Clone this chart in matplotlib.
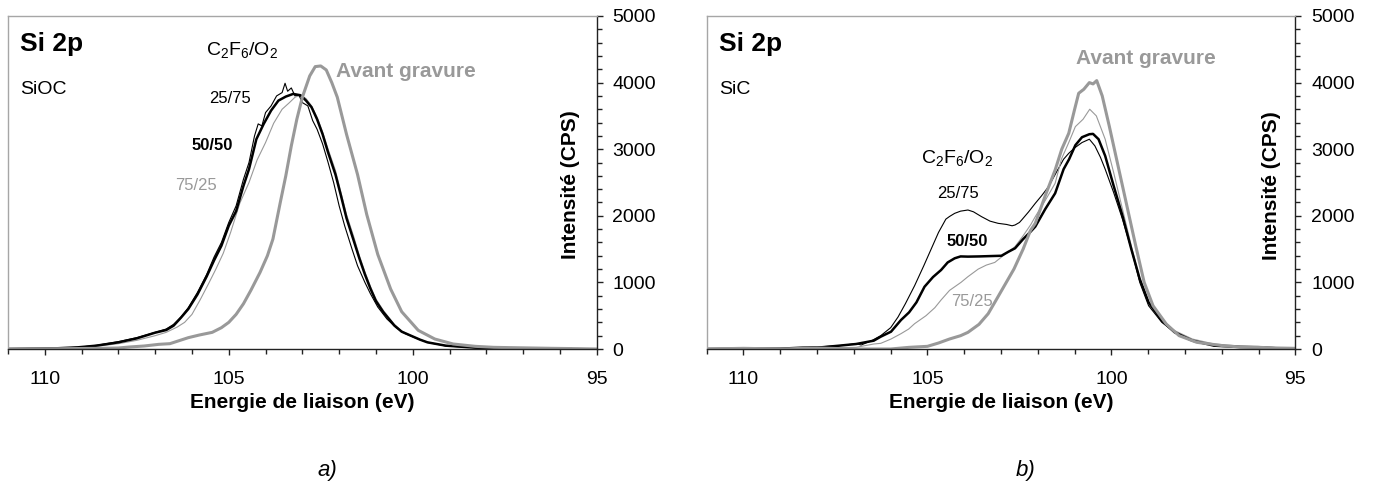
import matplotlib
matplotlib.use("Agg")
import matplotlib.pyplot as plt
from matplotlib.ticker import MultipleLocator

plt.rcParams["font.family"] = ["Liberation Sans", "DejaVu Sans"]
plt.rcParams["mathtext.default"] = "regular"

GRAY = "#999999"

# ---- a) SiOC : Si 2p spectra (binding energy eV, intensity CPS)
a_ref_x = [111.0, 109.5, 108.5, 108.0, 107.7, 107.3, 106.9, 106.6, 106.1, 105.8, 105.45, 105.2,
           105.0, 104.8, 104.6, 104.4, 104.15, 103.95, 103.8, 103.6, 103.45, 103.3, 103.15, 103.0,
           102.8, 102.65, 102.5, 102.35, 102.2, 102.05, 101.8, 101.5, 101.25, 100.95, 100.6, 100.3,
           99.85, 99.4, 98.9, 98.3, 97.8, 97.3, 96.2, 95.5, 95.0]
a_ref_y = [0, 5, 10, 15, 30, 45, 70, 80, 170, 210, 250, 320,
           400, 520, 680, 880, 1150, 1400, 1650, 2200, 2600, 3050, 3450, 3780,
           4100, 4240, 4250, 4190, 4000, 3780, 3225, 2620, 2020, 1420, 900, 560,
           280, 150, 75, 40, 25, 20, 10, 5, 0]

a_5050_x = [111.0, 110.4, 109.7, 109.1, 108.6, 108.0, 107.5, 107.0, 106.7, 106.5, 106.3, 106.1,
            105.85, 105.6, 105.4, 105.2, 105.0, 104.8, 104.6, 104.45, 104.25, 104.05, 103.85, 103.65,
            103.45, 103.25, 103.05, 102.9, 102.75, 102.6, 102.45, 102.3, 102.1, 101.95, 101.8, 101.6,
            101.45, 101.3, 101.15, 101.0, 100.8, 100.5, 100.3, 100.05, 99.8, 99.6, 99.1, 98.3,
            97.3, 96.2, 95.7]
a_5050_y = [0, 5, 10, 25, 50, 100, 160, 245, 285, 350, 470, 600,
            820, 1090, 1330, 1550, 1850, 2070, 2450, 2700, 3150, 3380, 3580, 3730,
            3790, 3830, 3810, 3730, 3630, 3450, 3225, 2950, 2620, 2300, 1965, 1620,
            1360, 1120, 907, 720, 554, 353, 260, 200, 140, 100, 50, 20,
            10, 3, 0]

a_2575_x = [111.0, 110.4, 109.7, 109.1, 108.6, 108.0, 107.5, 107.0, 106.7, 106.5, 106.3, 106.1,
            105.85, 105.6, 105.4, 105.2, 105.0, 104.8, 104.6, 104.45, 104.3, 104.2, 104.1, 104.0,
            103.85, 103.7, 103.55, 103.47, 103.4, 103.3, 103.2, 103.1, 103.0, 102.85, 102.72, 102.6,
            102.45, 102.3, 102.15, 102.0, 101.85, 101.65, 101.5, 101.3, 101.15, 100.95, 100.7, 100.45,
            100.2, 99.9, 99.6, 99.1, 98.3, 97.3, 96.2, 95.7]
a_2575_y = [0, 0, 15, 25, 55, 110, 170, 250, 300, 370, 480, 620,
            850, 1120, 1380, 1600, 1900, 2150, 2550, 2800, 3200, 3380, 3350, 3550,
            3650, 3800, 3850, 3990, 3870, 3920, 3800, 3820, 3700, 3650, 3430, 3300,
            3080, 2800, 2500, 2150, 1850, 1500, 1250, 1000, 830, 630, 450, 320,
            230, 160, 100, 45, 20, 8, 3, 0]

a_7525_x = [111.0, 110.4, 109.7, 109.1, 108.6, 108.0, 107.5, 107.0, 106.7, 106.4, 106.2, 106.0,
            105.78, 105.55, 105.35, 105.15, 104.95, 104.7, 104.45, 104.23, 104.0, 103.78, 103.55, 103.35,
            103.2, 103.05, 102.9, 102.75, 102.6, 102.45, 102.3, 102.1, 101.95, 101.8, 101.6, 101.45,
            101.3, 101.15, 101.0, 100.8, 100.5, 100.3, 100.05, 99.8, 99.6, 99.1, 98.3, 97.3,
            96.2, 95.7]
a_7525_y = [0, 5, 10, 20, 40, 80, 130, 200, 250, 330, 400, 520,
            736, 980, 1200, 1437, 1750, 2188, 2500, 2838, 3100, 3389, 3600, 3700,
            3780, 3814, 3760, 3650, 3480, 3260, 3000, 2680, 2350, 2020, 1680, 1400,
            1160, 940, 750, 580, 370, 270, 200, 140, 100, 50, 20, 10,
            5, 0]

# ---- b) SiC : Si 2p spectra
b_ref_x = [111.0, 110.0, 109.0, 108.0, 107.0, 106.0, 105.5, 105.0, 104.7, 104.4, 104.1, 103.9,
           103.6, 103.35, 103.15, 102.9, 102.65, 102.4, 102.2, 102.07, 101.8, 101.53, 101.35, 101.16,
           101.0, 100.89, 100.75, 100.6, 100.5, 100.4, 100.25, 100.06, 99.82, 99.58, 99.34, 99.11,
           98.87, 98.51, 98.16, 97.68, 96.97, 96.5, 96.02, 95.5, 95.0]
b_ref_y = [0, 10, 0, 15, 0, 0, 25, 40, 90, 150, 200, 250,
           370, 530, 720, 960, 1200, 1500, 1780, 1887, 2300, 2688, 3000, 3239,
           3600, 3840, 3900, 4000, 3980, 4030, 3800, 3350, 2750, 2150, 1550, 1000,
           650, 375, 200, 100, 50, 30, 25, 15, 10]

b_2575_x = [111.0, 110.0, 109.0, 108.13, 107.4, 106.94, 106.8, 106.5, 106.27, 106.0, 105.8, 105.6,
            105.35, 105.1, 104.9, 104.7, 104.5, 104.4, 104.26, 104.1, 103.9, 103.75, 103.53, 103.3,
            103.08, 102.85, 102.7, 102.62, 102.5, 102.44, 102.25, 102.07, 101.9, 101.71, 101.5, 101.3,
            101.16, 101.0, 100.8, 100.6, 100.45, 100.3, 100.17, 99.94, 99.7, 99.46, 99.23, 98.99,
            98.63, 98.28, 97.8, 97.21, 96.5, 96.02, 95.5, 95.0]
b_2575_y = [0, 5, 0, 25, 50, 80, 60, 130, 200, 320, 480, 680,
            950, 1250, 1500, 1750, 1950, 1990, 2037, 2070, 2087, 2060, 1987, 1920,
            1887, 1870, 1850, 1862, 1900, 1937, 2060, 2187, 2300, 2437, 2650, 2850,
            2938, 3020, 3100, 3150, 3050, 2880, 2700, 2350, 1950, 1500, 1000, 650,
            400, 250, 125, 50, 30, 25, 10, 10]

b_5050_x = [111.0, 110.0, 109.0, 108.4, 107.89, 107.4, 106.94, 106.46, 106.27, 105.99, 105.72, 105.5,
            105.3, 105.08, 104.85, 104.63, 104.45, 104.26, 104.1, 103.9, 103.6, 103.3, 102.99, 102.8,
            102.62, 102.4, 102.2, 102.07, 101.8, 101.53, 101.3, 101.15, 100.98, 100.8, 100.6, 100.5,
            100.35, 100.17, 99.94, 99.7, 99.46, 99.23, 98.99, 98.63, 98.28, 97.8, 97.21, 96.5,
            96.02, 95.5, 95.0]
b_5050_y = [0, 5, 5, 20, 25, 50, 75, 125, 185, 260, 435, 550,
            700, 935, 1080, 1186, 1300, 1362, 1390, 1387, 1390, 1395, 1400, 1460,
            1512, 1650, 1760, 1837, 2100, 2338, 2700, 2850, 3060, 3180, 3225, 3230,
            3150, 2900, 2450, 2000, 1500, 1050, 700, 425, 250, 125, 50, 30,
            25, 10, 5]

b_7525_x = [111.0, 110.0, 109.0, 108.0, 107.4, 106.94, 106.46, 106.27, 105.99, 105.72, 105.51, 105.35,
            105.04, 104.8, 104.63, 104.4, 104.09, 103.9, 103.62, 103.4, 103.17, 102.9, 102.62, 102.4,
            102.19, 102.07, 101.8, 101.53, 101.36, 101.16, 100.98, 100.77, 100.59, 100.41, 100.17, 99.94,
            99.7, 99.46, 99.23, 98.99, 98.63, 98.28, 97.8, 97.21, 96.5, 96.02, 95.5, 95.0]
b_7525_y = [0, 0, 5, 10, 20, 25, 75, 85, 150, 230, 300, 380,
            500, 620, 736, 880, 1000, 1086, 1200, 1260, 1300, 1420, 1537, 1700,
            1870, 1987, 2230, 2488, 2850, 3100, 3339, 3450, 3600, 3500, 3150, 2650,
            2100, 1550, 1050, 700, 425, 275, 150, 75, 45, 40, 20, 15]

fig = plt.figure(figsize=(13.74, 4.86), dpi=100)
W, H = 1374, 486
ax_a = fig.add_axes([8 / W, 1 - 349 / H, 588.7 / W, 333 / H])
ax_b = fig.add_axes([706.7 / W, 1 - 349 / H, 588.7 / W, 333 / H])


def style_axes(ax):
    ax.set_xlim(111, 95)
    ax.set_ylim(0, 5000)
    ax.yaxis.tick_right()
    ax.xaxis.set_major_locator(MultipleLocator(5))
    ax.xaxis.set_minor_locator(MultipleLocator(1))
    ax.yaxis.set_major_locator(MultipleLocator(1000))
    ax.yaxis.set_minor_locator(MultipleLocator(200))
    ax.tick_params(axis="both", which="both", direction="out", colors="#222222",
                   width=1.0, labelsize=14, labelcolor="black")
    ax.tick_params(axis="both", which="major", length=4.3)
    ax.tick_params(axis="both", which="minor", length=3.8)
    ax.tick_params(axis="x", which="major", pad=11.5)
    ax.tick_params(axis="y", which="major", pad=7)
    for side in ("left", "top"):
        ax.spines[side].set_color("#a6a6a6")
        ax.spines[side].set_linewidth(1.0)
    ax.spines["right"].set_color("#222222")
    ax.spines["bottom"].set_color("#222222")
    ax.spines["right"].set_linewidth(1.0)
    ax.spines["bottom"].set_linewidth(1.0)
    ax.text(0.5, -0.177, "Energie de liaison (eV)", transform=ax.transAxes,
            ha="center", va="baseline", fontsize=15, fontweight="bold")


for ax in (ax_a, ax_b):
    style_axes(ax)

# panel a
ax_a.plot(a_2575_x, a_2575_y, color="black", lw=0.8)
ax_a.plot(a_7525_x, a_7525_y, color=GRAY, lw=0.8)
ax_a.plot(a_5050_x, a_5050_y, color="black", lw=1.8)
ax_a.plot(a_ref_x, a_ref_y, color=GRAY, lw=2.2)

ax_a.text(110.68, 4470, "Si 2p", fontsize=19, fontweight="bold", va="baseline")
ax_a.text(110.68, 3824, "SiOC", fontsize=14, va="baseline")
ax_a.text(105.61, 4420, r"C$_2$F$_6$/O$_2$", fontsize=14, va="baseline")
ax_a.text(102.09, 4083, "Avant gravure", fontsize=15, fontweight="bold", color=GRAY, va="baseline")
ax_a.text(105.53, 3695, "25/75", fontsize=12, va="baseline")
ax_a.text(106.02, 2989, "50/50", fontsize=12, fontweight="bold", va="baseline")
ax_a.text(106.45, 2384, "75/25", fontsize=12, color=GRAY, va="baseline")
ax_a.text(95.70, 2470, "Intensité (CPS)", fontsize=15, fontweight="bold",
          rotation=90, ha="center", va="center")

# panel b
ax_b.plot(b_2575_x, b_2575_y, color="black", lw=0.8)
ax_b.plot(b_7525_x, b_7525_y, color=GRAY, lw=0.8)
ax_b.plot(b_5050_x, b_5050_y, color="black", lw=1.8)
ax_b.plot(b_ref_x, b_ref_y, color=GRAY, lw=2.2)

ax_b.text(110.66, 4470, "Si 2p", fontsize=19, fontweight="bold", va="baseline")
ax_b.text(110.66, 3824, "SiC", fontsize=14, va="baseline")
ax_b.text(100.95, 4275, "Avant gravure", fontsize=15, fontweight="bold", color=GRAY, va="baseline")
ax_b.text(105.18, 2800, r"C$_2$F$_6$/O$_2$", fontsize=14, va="baseline")
ax_b.text(104.74, 2265, "25/75", fontsize=12, va="baseline")
ax_b.text(104.47, 1540, "50/50", fontsize=12, fontweight="bold", va="baseline")
ax_b.text(104.35, 640, "75/25", fontsize=12, color=GRAY, va="baseline")
ax_b.text(95.66, 2450, "Intensité (CPS)", fontsize=15, fontweight="bold",
          rotation=90, ha="center", va="center")

fig.text(327 / W, 1 - 470.7 / H, "a)", fontsize=16, style="italic", ha="center", va="center")
fig.text(1025.8 / W, 1 - 470.7 / H, "b)", fontsize=16, style="italic", ha="center", va="center")

fig.savefig("out.png", dpi=100)
